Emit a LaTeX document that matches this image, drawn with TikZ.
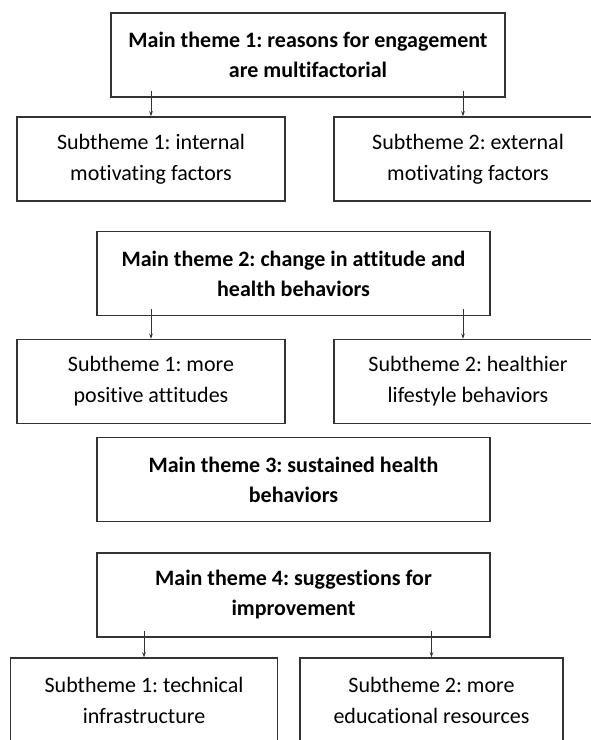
\documentclass[tikz,border=0pt]{standalone}
\usepackage{fontspec}
\setmainfont{Carlito}[Ligatures=NoCommon]
\usetikzlibrary{arrows.meta}

\begin{document}
\frenchspacing
\begin{tikzpicture}[x=1pt, y=-1pt,
    theme/.style={draw=black!80, line width=1.5pt, minimum height=84pt, inner sep=0pt, align=center},
    mainbox/.style={theme, minimum width=393pt, font=\fontsize{22}{30}\selectfont\bfseries},
    subbox/.style={theme, minimum width=268pt, font=\fontsize{22}{31}\selectfont},
    link/.style={draw=black!80, line width=0.8pt, -{Stealth[length=5pt, width=3.5pt]}}]
    \useasboundingbox (0,0) rectangle (591,740);
    \clip (0,0) rectangle (591,740);

    % main theme 1
    \node[mainbox, minimum width=394pt] (m1) at (308,55) {Main theme 1: reasons for engagement\\are multifactorial};
    \node[subbox] (s11) at (151,159) {Subtheme 1: internal\\motivating factors};
    \node[subbox] (s12) at (468,159) {Subtheme 2: external\\motivating factors};
    \coordinate (a12) at ([xshift=-5pt]s12.north);
    \draw[link] ([yshift=7pt]m1.south -| s11.north) -- (s11.north);
    \draw[link] ([yshift=7pt]m1.south -| a12) -- (a12);

    % main theme 2
    \node[mainbox] (m2) at (293.5,273.5) {Main theme 2: change in attitude and\\health behaviors};
    \node[subbox] (s21) at (151,381.5) {Subtheme 1: more\\positive attitudes};
    \node[subbox] (s22) at (468,381.5) {Subtheme 2: healthier\\lifestyle behaviors};
    \coordinate (a22) at ([xshift=-5pt]s22.north);
    \draw[link] ([yshift=7pt]m2.south -| s21.north) -- (s21.north);
    \draw[link] ([yshift=7pt]m2.south -| a22) -- (a22);

    % main theme 3
    \node[mainbox] (m3) at (293.5,479.5) {Main theme 3: sustained health\\behaviors};

    % main theme 4
    \node[mainbox] (m4) at (293.5,595) {Main theme 4: suggestions for\\improvement};
    \node[subbox, minimum width=267pt] (s41) at (144,700) {Subtheme 1: technical\\infrastructure};
    \node[subbox, minimum width=263pt] (s42) at (431.5,700) {Subtheme 2: more\\educational resources};
    \draw[link] ([yshift=7pt]m4.south -| s41.north) -- (s41.north);
    \draw[link] ([yshift=7pt]m4.south -| s42.north) -- (s42.north);
\end{tikzpicture}
\end{document}
